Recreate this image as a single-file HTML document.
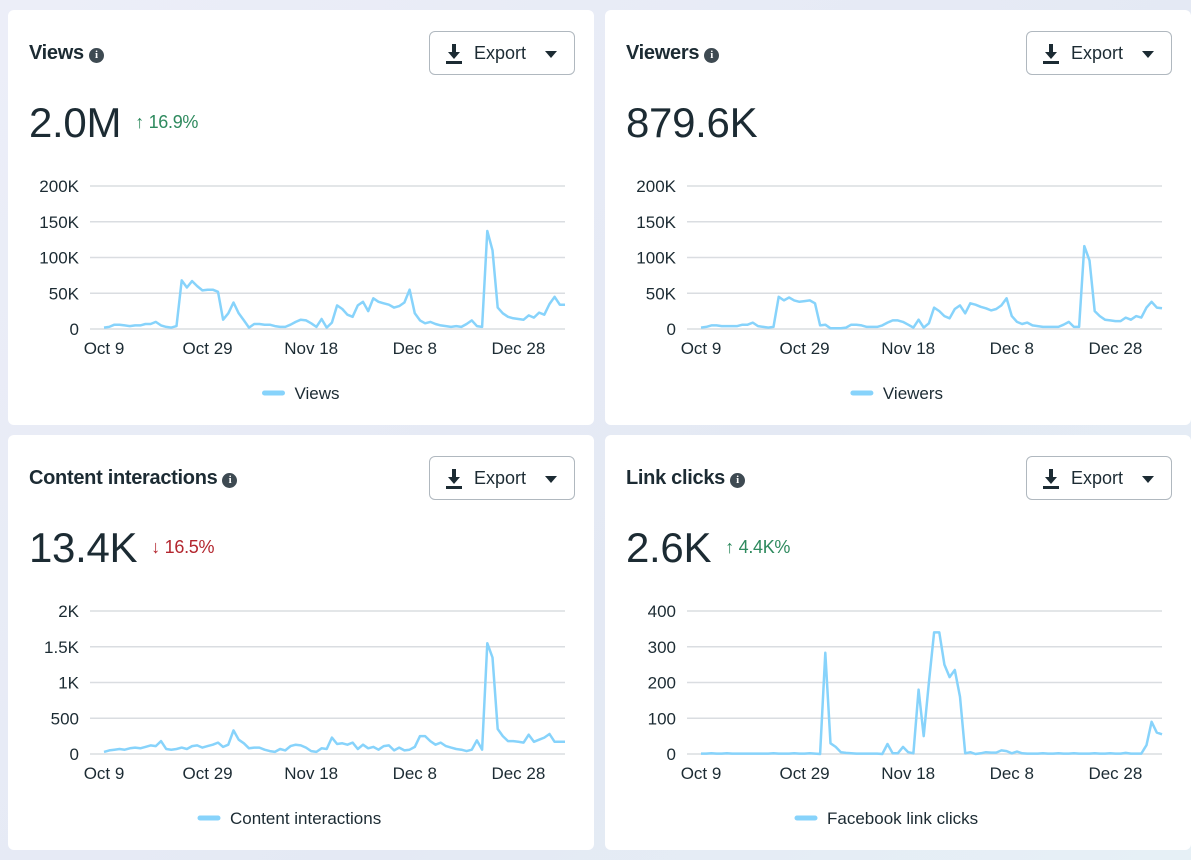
<!DOCTYPE html>
<html><head><meta charset="utf-8">
<style>
body{margin:0;width:1191px;height:860px;overflow:hidden;background:linear-gradient(135deg,#eceef8,#e4e9f4 60%,#e6f0f6);font-family:"Liberation Sans",sans-serif;color:#1c2b33;position:relative}
.card{position:absolute;width:586px;height:415px;background:#fff;border-radius:6px}
.title{position:absolute;left:21px;top:32px;font-size:20px;font-weight:bold;letter-spacing:-0.3px}
.info{display:inline-block;width:15px;height:15px;border-radius:50%;background:#3e4a52;color:#fff;font-size:11px;line-height:15px;text-align:center;vertical-align:1px;margin-left:5px;font-family:"Liberation Serif",serif;font-weight:bold}
.btn{position:absolute;left:421px;top:21px;width:146px;height:44px;border:1px solid #b0b8bf;border-radius:6px;box-sizing:border-box;font-size:18px;line-height:42px}
.btn .lbl{position:absolute;left:44px}
.btn .caret{position:absolute;right:17px;top:19px;width:0;height:0;border-left:6px solid transparent;border-right:6px solid transparent;border-top:7px solid #1c2b33}
.big{position:absolute;left:21px;top:89px;font-size:42px;letter-spacing:-0.3px}
.delta{font-size:18px;margin-left:14px;vertical-align:9px}
svg{position:absolute;left:0;top:0}
</style></head><body>
<div class="card" style="left:8px;top:10px">
 <div class="title">Views<span class="info">i</span></div>
 <div class="btn"><svg width="16" height="20" viewBox="0 0 16 20" style="position:absolute;left:16px;top:12px"><path d="M6 0h4v8h4l-6 7-6-7h4z M0 17h16v3H0z" fill="#1c2b33"/></svg><span class="lbl">Export</span><span class="caret"></span></div>
 <div class="big">2.0M<span class="delta" style="color:#2e8a5e">↑ 16.9%</span></div>
 <svg id="c0" width="586" height="415"></svg>
</div>
<div class="card" style="left:605px;top:10px">
 <div class="title">Viewers<span class="info">i</span></div>
 <div class="btn"><svg width="16" height="20" viewBox="0 0 16 20" style="position:absolute;left:16px;top:12px"><path d="M6 0h4v8h4l-6 7-6-7h4z M0 17h16v3H0z" fill="#1c2b33"/></svg><span class="lbl">Export</span><span class="caret"></span></div>
 <div class="big">879.6K</div>
 <svg id="c1" width="586" height="415"></svg>
</div>
<div class="card" style="left:8px;top:435px">
 <div class="title">Content interactions<span class="info">i</span></div>
 <div class="btn"><svg width="16" height="20" viewBox="0 0 16 20" style="position:absolute;left:16px;top:12px"><path d="M6 0h4v8h4l-6 7-6-7h4z M0 17h16v3H0z" fill="#1c2b33"/></svg><span class="lbl">Export</span><span class="caret"></span></div>
 <div class="big">13.4K<span class="delta" style="color:#b3262e">↓ 16.5%</span></div>
 <svg id="c2" width="586" height="415"></svg>
</div>
<div class="card" style="left:605px;top:435px">
 <div class="title">Link clicks<span class="info">i</span></div>
 <div class="btn"><svg width="16" height="20" viewBox="0 0 16 20" style="position:absolute;left:16px;top:12px"><path d="M6 0h4v8h4l-6 7-6-7h4z M0 17h16v3H0z" fill="#1c2b33"/></svg><span class="lbl">Export</span><span class="caret"></span></div>
 <div class="big">2.6K<span class="delta" style="color:#2e8a5e">↑ 4.4K%</span></div>
 <svg id="c3" width="586" height="415"></svg>
</div>
<script>
const xTickLabels=["Oct 9","Oct 29","Nov 18","Dec 8","Dec 28"];
const xTickDays=[0,20,40,60,80];
const viewsValues=[2,3,6,6,5,4,5,5,7,7,10,5,3,2,4,68,58,67,60,54,55,55,52,13,22,37,22,12,2,7,7,6,6,4,3,3,6,10,13,12,8,3,14,2,9,33,28,20,17,33,38,25,43,38,36,34,30,32,37,55,22,12,8,10,7,5,4,3,4,3,7,12,4,3,137,110,30,22,17,15,14,13,19,16,23,20,35,45,34,34];
const viewersValues=[2,3,5,5,4,4,4,4,6,6,9,4,3,2,3,45,40,44,40,38,39,40,36,5,6,1,1,1,2,6,6,5,3,3,3,5,9,12,12,10,6,2,13,2,8,30,25,18,15,28,33,22,36,34,31,29,26,28,33,43,18,10,7,9,5,4,3,3,3,3,6,10,3,3,116,96,25,18,13,12,11,11,16,13,18,16,30,38,30,29];
const interactionsValues=[30,50,60,70,60,80,90,80,100,120,110,180,70,60,70,90,70,110,120,90,110,130,160,100,130,330,200,150,80,90,90,60,40,30,70,50,110,130,120,90,40,30,80,70,230,140,150,130,160,70,130,80,100,60,110,120,50,90,50,60,100,250,250,180,130,160,110,90,70,60,40,60,190,60,1550,1350,350,250,180,180,170,160,270,170,200,230,280,170,170,170];
const linkClicksValues=[1,1,2,1,1,2,1,1,1,1,1,1,1,1,2,1,1,1,2,1,1,2,1,0,283,30,20,5,3,2,1,1,1,1,1,0,28,2,2,20,5,2,180,50,200,340,340,250,215,235,160,2,5,0,2,5,4,4,10,8,2,7,2,1,1,1,2,1,1,2,1,1,2,1,1,1,2,1,1,2,1,1,3,1,1,1,25,90,60,55];
const charts=[
 {id:"c0",vals:viewsValues,max:200,yTicks:[0,50,100,150,200],yLabels:["0","50K","100K","150K","200K"],legend:"Views",key:"views"},
 {id:"c1",vals:viewersValues,max:200,yTicks:[0,50,100,150,200],yLabels:["0","50K","100K","150K","200K"],legend:"Viewers",key:"viewers"},
 {id:"c2",vals:interactionsValues,max:2000,yTicks:[0,500,1000,1500,2000],yLabels:["0","500","1K","1.5K","2K"],legend:"Content interactions",key:"content-interactions"},
 {id:"c3",vals:linkClicksValues,max:400,yTicks:[0,100,200,300,400],yLabels:["0","100","200","300","400"],legend:"Facebook link clicks",key:"link-clicks"}
];
const NS="http://www.w3.org/2000/svg";
function mk(svg,tag,attrs,text){const e=document.createElementNS(NS,tag);for(const k in attrs)e.setAttribute(k,attrs[k]);if(text!==undefined)e.textContent=text;svg.appendChild(e);return e;}
charts.forEach(c=>{
 const svg=document.getElementById(c.id);
 const x=d=>96+d*(557-96)/89;
 const y=v=>319-v/c.max*143;
 c.yTicks.forEach((t,i)=>{
  const g=mk(svg,"line",{x1:82,x2:557,y1:y(t),y2:y(t),stroke:"#dadde1","stroke-width":1.5});
  
  
  const l=mk(svg,"text",{x:71,y:y(t)+6,"text-anchor":"end","font-size":"17","fill":"#1c2b33","font-family":"Liberation Sans"},c.yLabels[i]);
  
  
 });
 xTickDays.forEach((d,i)=>{
  const l=mk(svg,"text",{x:x(d),y:344,"text-anchor":"middle","font-size":"17","fill":"#1c2b33","font-family":"Liberation Sans"},xTickLabels[i]);
  
  
 });
 const pts=c.vals.map((v,i)=>x(i).toFixed(1)+","+y(v).toFixed(1)).join(" ");
 const p=mk(svg,"polyline",{points:pts,fill:"none",stroke:"#87d3fb","stroke-width":2.5,"stroke-linejoin":"round"});
 
 
 const g=mk(svg,"g",{});
 
 
 const tw=c.legend.length*8.6;
 const cx=293, sx=cx-(tw+30)/2;
 mk(g,"line",{x1:sx,x2:sx+18,y1:383,y2:383,stroke:"#87d3fb","stroke-width":5,"stroke-linecap":"round"});
 mk(g,"text",{x:sx+30,y:389,"font-size":"17","fill":"#1c2b33","font-family":"Liberation Sans"},c.legend);
});
</script>
</body></html>
